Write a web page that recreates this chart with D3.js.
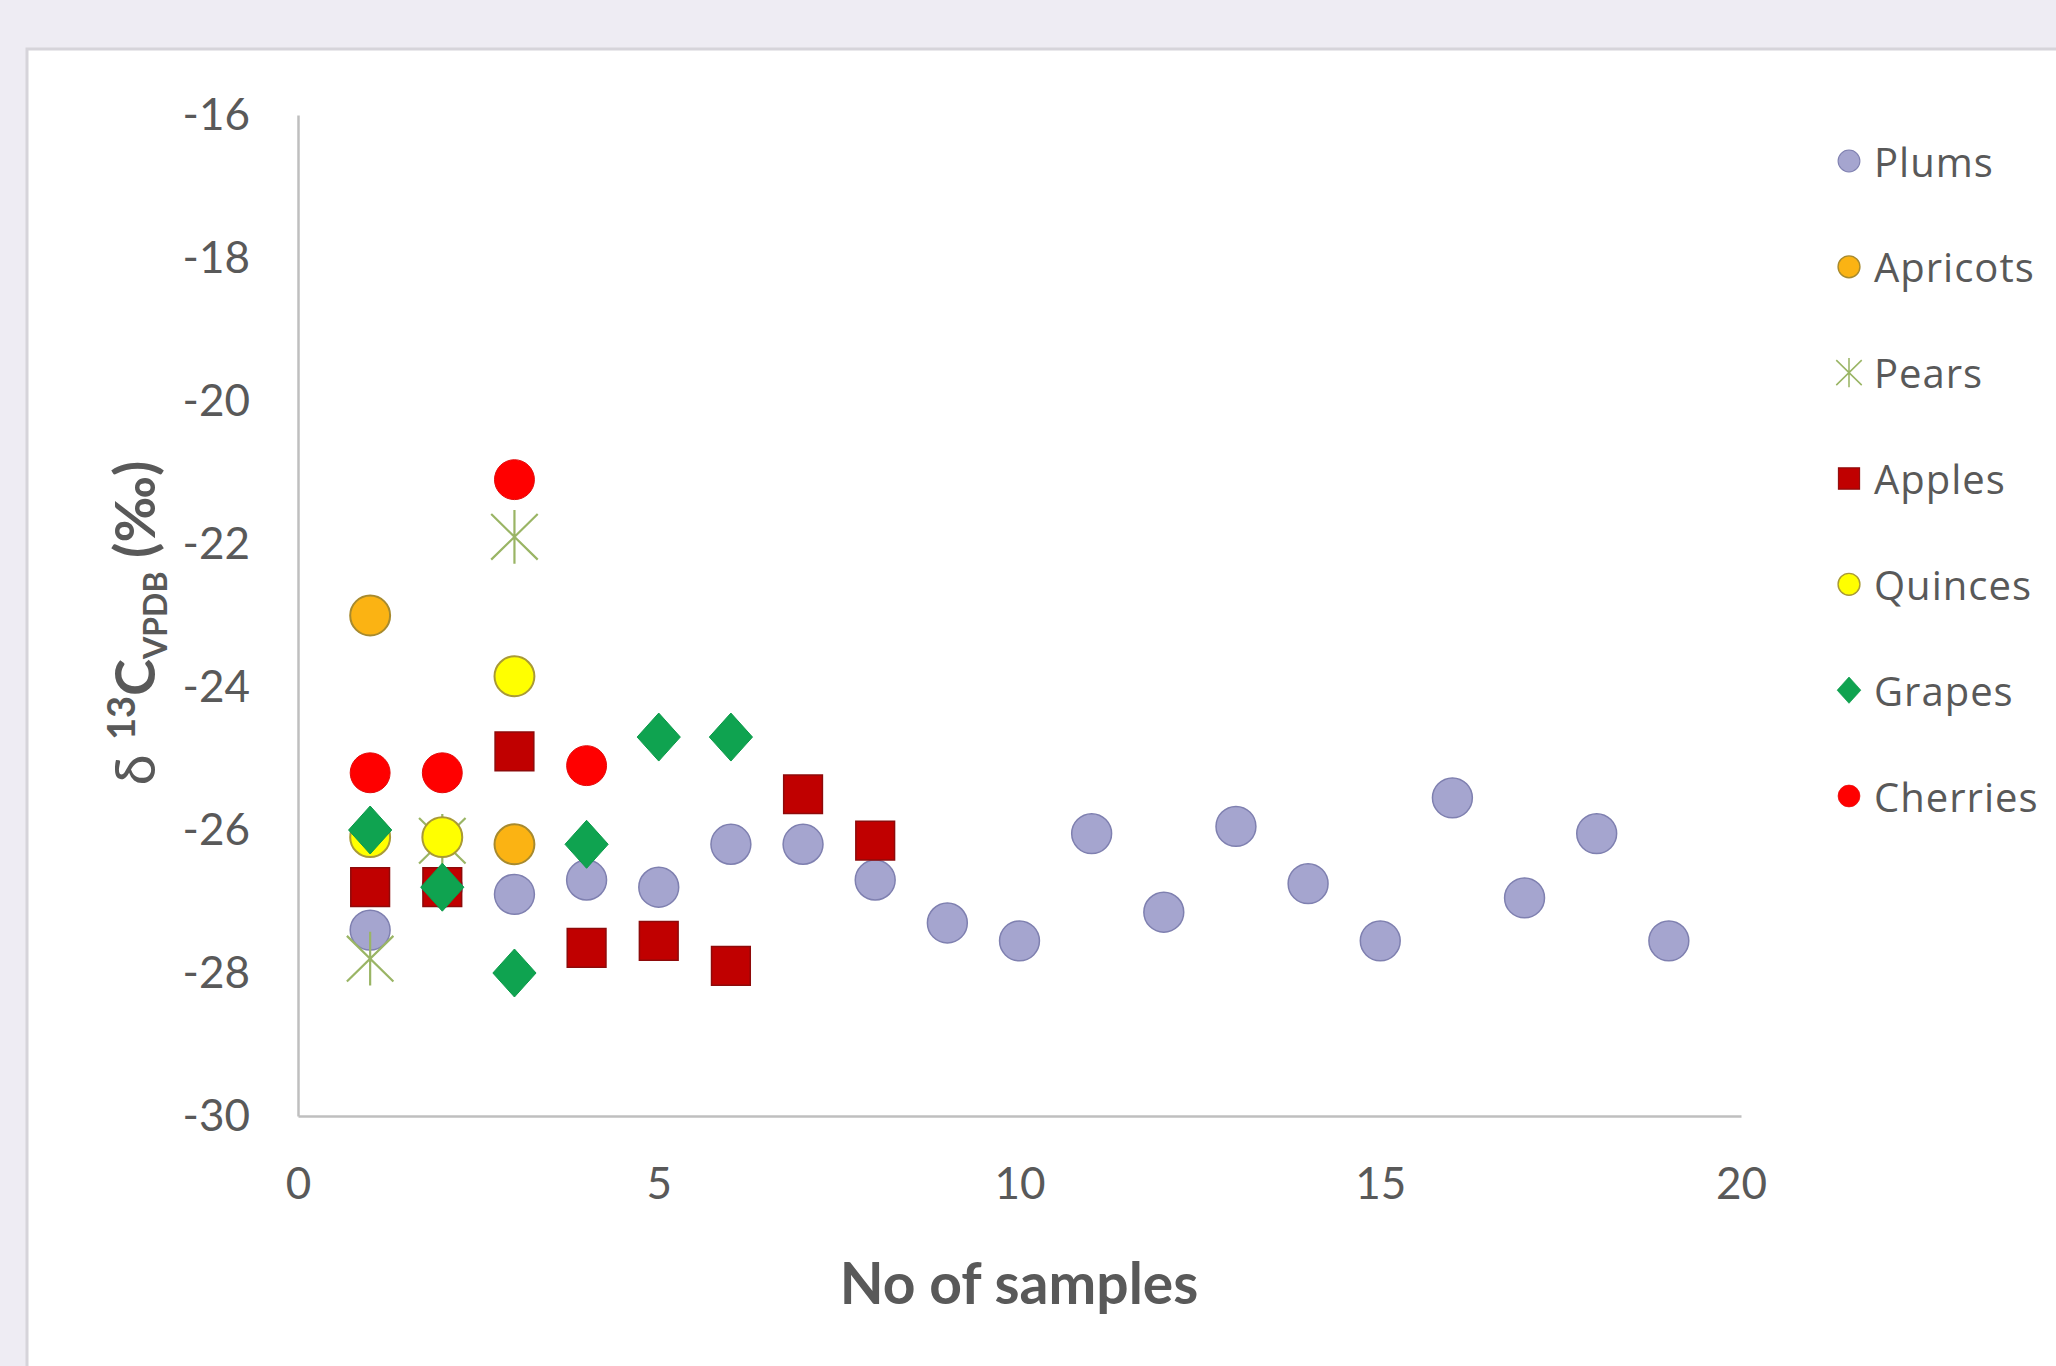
<!DOCTYPE html>
<html>
<head>
<meta charset="utf-8">
<script src="https://cdn.jsdelivr.net/npm/d3@7"></script>
<style>
  html, body { margin: 0; padding: 0; background: #eeecf3; }
  svg { display: block; }
</style>
</head>
<body>
<div id="chartContainer"></div>
<script>
// series names in draw order (later ones sit on top)
const seriesNames = ["Plums", "Apricots", "Pears", "Apples", "Quinces", "Grapes", "Cherries"];

// x = sample number, y = delta 13C value
const plumsX = [1, 2, 3, 4, 5, 6, 7, 8, 9, 10, 11, 12, 13, 14, 15, 16, 17, 18, 19];
const plumsY = [-27.4, -26.8, -26.9, -26.7, -26.8, -26.2, -26.2, -26.7, -27.3, -27.55, -26.05, -27.15, -25.95, -26.75, -27.55, -25.55, -26.95, -26.05, -27.55];
const apricotsX = [1, 3];
const apricotsY = [-23.0, -26.2];
const pearsX = [1, 2, 3];
const pearsY = [-27.8, -26.15, -21.9];
const applesX = [1, 2, 3, 4, 5, 6, 7, 8];
const applesY = [-26.8, -26.8, -24.9, -27.65, -27.55, -27.9, -25.5, -26.15];
const quincesX = [1, 2, 3];
const quincesY = [-26.1, -26.1, -23.85];
const grapesX = [1, 2, 3, 4, 5, 6];
const grapesY = [-26.0, -26.8, -28.0, -26.2, -24.7, -24.7];
const cherriesX = [1, 2, 3, 4];
const cherriesY = [-25.2, -25.2, -21.1, -25.1];

const xTicks = [0, 5, 10, 15, 20];
const yTicks = [-30, -28, -26, -24, -22, -20, -18, -16];

const width = 2056;
const height = 1366;
const plot = { left: 298, right: 1741, top: 115, bottom: 1116 };

// custom marker shapes
const diamond = {
  draw(ctx, size) {
    const w = Math.sqrt(size) * 0.72, h = Math.sqrt(size) * 0.8;
    ctx.moveTo(0, -h); ctx.lineTo(w, 0); ctx.lineTo(0, h); ctx.lineTo(-w, 0); ctx.closePath();
  }
};
const star = {
  draw(ctx, size) {
    const w = Math.sqrt(size) * 0.52, h = Math.sqrt(size) * 0.6;
    ctx.moveTo(0, -h); ctx.lineTo(0, h);
    ctx.moveTo(-w, -h * 0.85); ctx.lineTo(w, h * 0.85);
    ctx.moveTo(w, -h * 0.85); ctx.lineTo(-w, h * 0.85);
  }
};

const styles = {
  Plums:    { xs: plumsX, ys: plumsY, type: d3.symbolCircle, size: 1250, fill: "#a5a5cf", stroke: "#7f80b0", sw: 1.5 },
  Apricots: { xs: apricotsX, ys: apricotsY, type: d3.symbolCircle, size: 1250, fill: "#fbb313", stroke: "#a78a2e", sw: 2 },
  Pears:    { xs: pearsX, ys: pearsY, type: star, size: 2000, fill: "none", stroke: "#9ab565", sw: 2.2 },
  Apples:   { xs: applesX, ys: applesY, type: d3.symbolSquare, size: 1500, fill: "#c00000", stroke: "#8e0a0a", sw: 1.5 },
  Quinces:  { xs: quincesX, ys: quincesY, type: d3.symbolCircle, size: 1250, fill: "#ffff00", stroke: "#a99a36", sw: 2 },
  Grapes:   { xs: grapesX, ys: grapesY, type: diamond, size: 900, fill: "#0fa350", stroke: "#0c9a4a", sw: 1 },
  Cherries: { xs: cherriesX, ys: cherriesY, type: d3.symbolCircle, size: 1250, fill: "#ff0000", stroke: "#e30b0b", sw: 1 }
};

const svg = d3.select("#chartContainer")
  .append("svg")
  .attr("width", width)
  .attr("height", height);

// white chart panel
svg.append("rect")
  .attr("x", 27).attr("y", 49)
  .attr("width", width).attr("height", height)
  .attr("fill", "#ffffff")
  .attr("stroke", "#d6d4da")
  .attr("stroke-width", 3);

// SCALES
const xScale = d3.scaleLinear().domain([0, 20]).range([plot.left, plot.right]);
const yScale = d3.scaleLinear().domain([-30, -16]).range([plot.bottom, plot.top]);

// AXIS (plain hyphen for negatives, like the original)
const xAxis = d3.axisBottom(xScale).tickValues(xTicks).tickFormat((d) => String(d))
  .tickSize(0).tickSizeOuter(0).tickPadding(52);
const yAxis = d3.axisLeft(yScale).tickValues(yTicks).tickFormat((d) => String(d))
  .tickSize(0).tickSizeOuter(0).tickPadding(48);

const gx = svg.append("g")
  .attr("transform", `translate(0, ${plot.bottom})`)
  .call(xAxis);
const gy = svg.append("g")
  .attr("transform", `translate(${plot.left}, 0)`)
  .call(yAxis);

[gx, gy].forEach((g) => {
  g.select(".domain").attr("stroke", "#bfbfbf").attr("stroke-width", 2.5);
  g.selectAll("text")
    .attr("fill", "#595959")
    .style("font-family", "Lato, 'Open Sans', sans-serif")
    .style("font-size", "44px");
});

// points
seriesNames.forEach((name) => {
  const s = styles[name];
  const pts = s.xs.map((x, i) => ({ x: x, y: s.ys[i] }));
  svg.append("g")
    .selectAll("path")
    .data(pts)
    .enter()
    .append("path")
    .attr("d", d3.symbol().type(s.type).size(s.size))
    .attr("transform", (d) => `translate(${xScale(d.x)}, ${yScale(d.y)})`)
    .attr("fill", s.fill)
    .attr("stroke", s.stroke)
    .attr("stroke-width", s.sw);
});

// x axis title
svg.append("text")
  .attr("x", 1019)
  .attr("y", 1282)
  .attr("text-anchor", "middle")
  .attr("dominant-baseline", "central")
  .attr("fill", "#595959")
  .style("font-family", "Lato, 'Open Sans', sans-serif")
  .style("font-weight", "bold")
  .style("font-size", "57px")
  .text("No of samples");

// y axis title: δ 13C VPDB (‰)
const yTitle = svg.append("text")
  .attr("transform", "translate(155, 623) rotate(-90)")
  .attr("text-anchor", "middle")
  .attr("fill", "#595959")
  .style("font-family", "Lato, 'Open Sans', sans-serif")
  .style("font-size", "56px");
yTitle.append("tspan").text("δ ");
yTitle.append("tspan").attr("font-weight", "bold").attr("font-size", "38px").attr("dy", -20).text("13");
yTitle.append("tspan").attr("font-weight", "bold").attr("dy", 20).text("C");
yTitle.append("tspan").attr("font-weight", "bold").attr("font-size", "32px").attr("dy", 12).text("VPDB");
yTitle.append("tspan").attr("font-weight", "bold").attr("dy", -12).text(" (‰)");

// legend
const legend = svg.append("g");
const legendRow = d3.scaleLinear().domain([0, 6]).range([161, 796]);
seriesNames.forEach((name, i) => {
  const s = styles[name];
  const row = legend.append("g").attr("transform", `translate(1849, ${legendRow(i)})`);
  row.append("path")
    .attr("d", d3.symbol().type(s.type).size(s.size * 0.3))
    .attr("fill", s.fill)
    .attr("stroke", s.stroke)
    .attr("stroke-width", s.sw * 0.7);
  row.append("text")
    .attr("x", 25)
    .attr("dominant-baseline", "central")
    .attr("fill", "#595959")
    .style("font-family", "'Open Sans', sans-serif")
    .style("font-size", "40px")
    .style("letter-spacing", "1px")
    .text(name);
});
</script>
</body>
</html>
